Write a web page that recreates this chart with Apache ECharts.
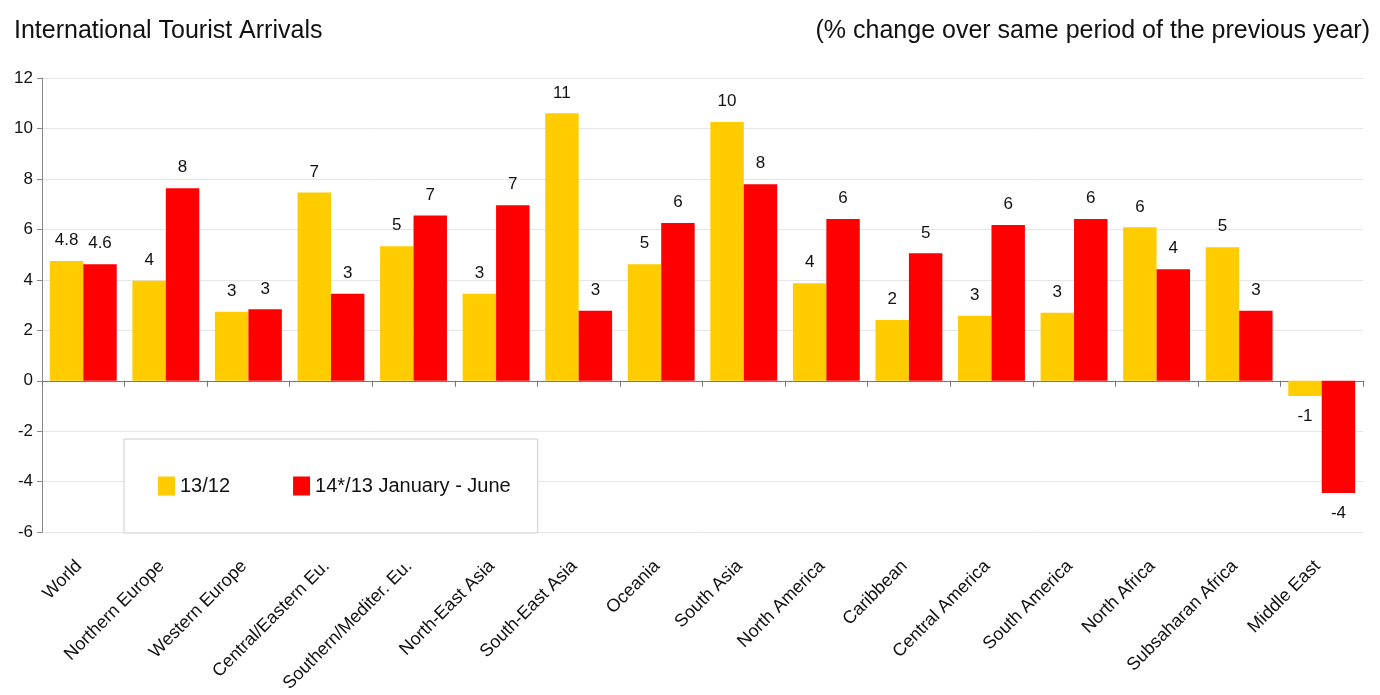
<!DOCTYPE html>
<html>
<head>
<meta charset="utf-8">
<title>International Tourist Arrivals</title>
<script src="https://cdn.jsdelivr.net/npm/echarts@6/dist/echarts.min.js"></script>
<style>
  html, body { margin: 0; padding: 0; background: #fff; }
  #chart { width: 1380px; height: 695px; }
</style>
</head>
<body>
<div id="chart"></div>
<script>
const regions = ['World', 'Northern Europe', 'Western Europe', 'Central/Eastern Eu.', 'Southern/Mediter. Eu.',
  'North-East Asia', 'South-East Asia', 'Oceania', 'South Asia', 'North America', 'Caribbean',
  'Central America', 'South America', 'North Africa', 'Subsaharan Africa', 'Middle East']

const change13 = [4.75, 3.96, 2.74, 7.46, 5.33, 3.45, 10.6, 4.62, 10.26, 3.87, 2.41, 2.58, 2.7, 6.08, 5.29, -0.6]
const change14 = [4.62, 7.63, 2.83, 3.45, 6.55, 6.96, 2.78, 6.25, 7.79, 6.41, 5.05, 6.17, 6.41, 4.42, 2.78, -4.45]

// printed labels on the original are rounded
const labels13 = ['4.8', '4', '3', '7', '5', '3', '11', '5', '10', '4', '2', '3', '3', '6', '5', '-1']
const labels14 = ['4.6', '8', '3', '3', '7', '7', '3', '6', '8', '6', '5', '6', '6', '4', '3', '-4']

const yTicks = [-6, -4, -2, 0, 2, 4, 6, 8, 10, 12]

const font = "'Liberation Sans', Arial, sans-serif"

function barData(values, labels) {
  return values.map((v, i) => ({
    value: v,
    label: { position: v < 0 ? 'bottom' : 'top', formatter: labels[i] }
  }))
}

const chart = echarts.init(document.getElementById('chart'))

chart.setOption({
  animation: false,
  textStyle: { fontFamily: font },
  title: [
    {
      text: 'International Tourist Arrivals',
      left: 9, top: 14,
      textStyle: { fontFamily: font, fontSize: 25, fontWeight: 'normal', color: '#111' }
    },
    {
      text: '(% change over same period of the previous year)',
      right: 5, top: 14,
      textStyle: { fontFamily: font, fontSize: 25, fontWeight: 'normal', color: '#111' }
    }
  ],
  legend: {
    left: 124, top: 439,
    padding: [37, 27, 37, 34],
    itemWidth: 17, itemHeight: 19,
    itemGap: 63,
    backgroundColor: '#fff',
    borderColor: '#cccccc',
    borderWidth: 1,
    icon: 'rect',
    textStyle: { fontFamily: font, fontSize: 20, color: '#111' },
    data: ['13/12', '14*/13 January - June']
  },
  grid: { left: 42, right: 17, top: 78, bottom: 160 },
  xAxis: [
    {
      type: 'category',
      data: regions,
      axisLine: { onZero: true, lineStyle: { color: '#777' } },
      axisTick: { show: true, interval: 0, length: 6, lineStyle: { color: '#777' } },
      axisLabel: { show: false },
      splitLine: { show: false }
    },
    {
      type: 'category',
      data: regions,
      position: 'bottom',
      axisLine: { show: false, onZero: false },
      axisTick: { show: false },
      axisLabel: {
        rotate: 45,
        margin: 27,
        interval: 0,
        fontFamily: font,
        fontSize: 18,
        color: '#111',
        padding: [0, 6, 0, 0]
      }
    }
  ],
  yAxis: {
    type: 'value',
    min: yTicks[0],
    max: yTicks[yTicks.length - 1],
    interval: 2,
    axisLine: { show: true, lineStyle: { color: '#888' } },
    axisTick: { show: true, length: 5, lineStyle: { color: '#888' } },
    axisLabel: { fontFamily: font, fontSize: 17, color: '#111', margin: 9 },
    splitLine: { lineStyle: { color: '#e6e6e6' } }
  },
  series: [
    {
      name: '13/12',
      type: 'bar',
      xAxisIndex: 0,
      data: barData(change13, labels13),
      itemStyle: { color: '#ffcc00' },
      barGap: '0%',
      barCategoryGap: '19%',
      label: { show: true, distance: 12, fontFamily: font, fontSize: 17, color: '#111' }
    },
    {
      name: '14*/13 January - June',
      type: 'bar',
      xAxisIndex: 0,
      data: barData(change14, labels14),
      itemStyle: { color: '#ff0000' },
      barGap: '0%',
      barCategoryGap: '19%',
      label: { show: true, distance: 12, fontFamily: font, fontSize: 17, color: '#111' }
    }
  ]
})
</script>
</body>
</html>
